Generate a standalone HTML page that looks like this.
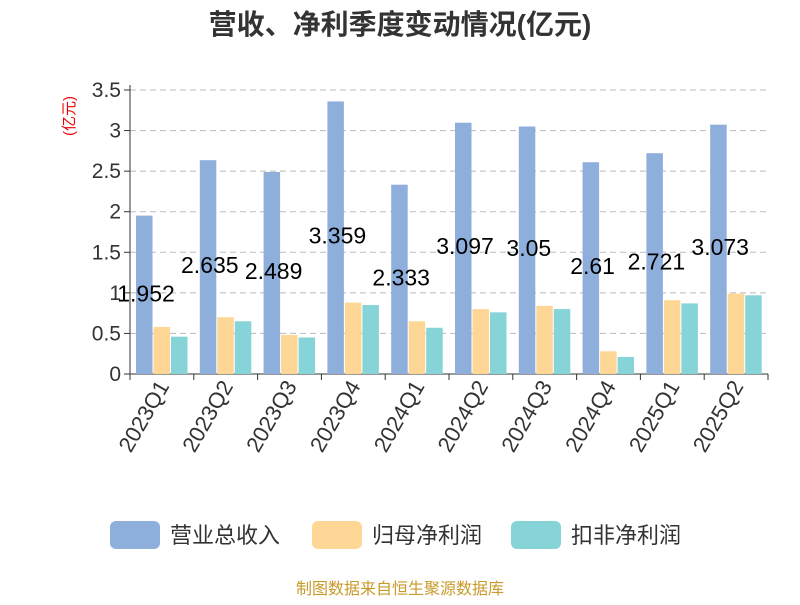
<!DOCTYPE html>
<html><head><meta charset="utf-8"><style>
body{margin:0;background:#fff;font-family:"Liberation Sans","Noto Sans CJK SC",sans-serif}
</style></head><body>
<svg id="c" width="800" height="600" xmlns="http://www.w3.org/2000/svg" font-family="Liberation Sans, Noto Sans CJK SC, sans-serif"></svg>
<script>
const categories=["2023Q1","2023Q2","2023Q3","2023Q4","2024Q1","2024Q2","2024Q3","2024Q4","2025Q1","2025Q2"];
const revenue=[1.952,2.635,2.489,3.359,2.333,3.097,3.05,2.61,2.721,3.073];
const netProfit=[0.58,0.70,0.48,0.88,0.65,0.80,0.84,0.28,0.91,0.99];
const deductedProfit=[0.46,0.65,0.45,0.85,0.57,0.76,0.80,0.21,0.87,0.97];
const revenueLabels=["1.952","2.635","2.489","3.359","2.333","3.097","3.05","2.61","2.721","3.073"];
const yTicks=[0,0.5,1,1.5,2,2.5,3,3.5];
const yTickLabels=["0","0.5","1","1.5","2","2.5","3","3.5"];
const NS="http://www.w3.org/2000/svg",svg=document.getElementById('c');
function el(t,a,p){const e=document.createElementNS(NS,t);for(const k in a)e.setAttribute(k,a[k]);(p||svg).appendChild(e);return e;}
const x0=130,x1=768,y0=374,yMax=3.5,yTop=90;
const y=v=>y0-(v/yMax)*(y0-yTop);
const bw=(x1-x0)/categories.length;
const xg=i=>x0+i*bw;
let t=el('text',{x:400,y:34,'text-anchor':'middle','font-size':28,'font-weight':'bold',fill:'#333'});t.textContent='营收、净利季度变动情况(亿元)';

t=el('text',{x:0,y:0,'text-anchor':'middle','font-size':15,fill:'#e00',transform:'translate(74,116) rotate(-90)'});t.textContent='(亿元)';

yTicks.forEach((v,i)=>{
 if(v>0){const g=el('line',{x1:x0,x2:x1,y1:y(v),y2:y(v),stroke:'#bbb','stroke-dasharray':'6,4'});}
 el('line',{x1:x0-6,x2:x0,y1:y(v),y2:y(v),stroke:'#333'});
 const l=el('text',{x:x0-9,y:y(v)+7,'text-anchor':'end','font-size':21,fill:'#333'});l.textContent=yTickLabels[i];
 
});
el('line',{x1:x0,x2:x0,y1:yTop-5,y2:y0,stroke:'#333'});
el('line',{x1:x0,x2:x1,y1:y0,y2:y0,stroke:'#333'});
const colors=['#8eaedb','#fed797','#86d4d8'];
const series=[revenue,netProfit,deductedProfit];
const names=['revenue','net-profit','deducted-profit'];
categories.forEach((c,i)=>{
 const gx=xg(i);
 el('line',{x1:gx,x2:gx,y1:y0,y2:y0+6,stroke:'#333'});
 series.forEach((s,k)=>{
  const bx=gx+6+k*17.5;
  const r=el('rect',{x:bx,y:y(s[i]),width:16.5,height:y0-y(s[i]),fill:colors[k]});
  
 });
 const l=el('text',{x:0,y:0,'text-anchor':'end','font-size':22,fill:'#333',transform:`translate(${gx+bw/2+8},${y0+12}) rotate(-60)`});l.textContent=c;
 
 const v=el('text',{x:gx+16,y:y0-revenue[i]*41.3+8,'text-anchor':'middle','font-size':23,fill:'#000'});v.textContent=revenueLabels[i];
 
});
el('line',{x1:x1,x2:x1,y1:y0,y2:y0+6,stroke:'#333'});
const leg=[['营业总收入',110],['归母净利润',312],['扣非净利润',511]];
leg.forEach((L,k)=>{
 const r=el('rect',{x:L[1],y:521,width:50,height:28,rx:6,fill:colors[k]});
 
 const tx=el('text',{x:L[1]+60,y:543,'font-size':22,fill:'#333'});tx.textContent=L[0];
 
});
t=el('text',{x:400,y:594,'text-anchor':'middle','font-size':16,fill:'#c89a2a'});t.textContent='制图数据来自恒生聚源数据库';

</script>
</body></html>
